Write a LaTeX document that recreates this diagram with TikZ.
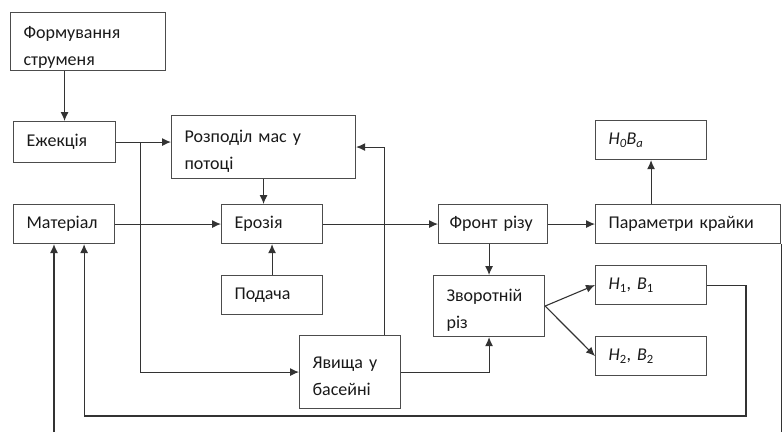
\documentclass[tikz,border=0pt]{standalone}
\usepackage{fontspec}
\setmainfont{Carlito}
\usetikzlibrary{arrows.meta}
\usetikzlibrary{calc}
\tikzset{>=stealth}
\tikzset{
  blok/.style={draw=black!70, line width=1.1pt, rectangle, anchor=north west,
    inner xsep=13pt, inner ysep=2pt, align=left, text=black!90,
    font=\fontsize{18}{27}\selectfont},
  strilka/.style={-{Latex[length=9pt,width=8pt]}, line width=1.1pt, draw=black!80},
  liniya/.style={line width=1.1pt, draw=black!80}
}
% strut to push two-line texts a little down
\newcommand{\pidpora}[1]{\rule{0pt}{#1pt}}

\begin{document}
\begin{tikzpicture}[x=1pt, y=-1pt]
        \useasboundingbox (0,0) rectangle (783,432);
        % Blocks
        \node[blok, minimum width=155pt, minimum height=58pt, text width=129pt] (form) at (10,12) {\pidpora{24}Формування\\струменя};
        \node[blok, minimum width=102pt, minimum height=41pt, text width=76pt] (ezh) at (13,121) {Ежекція};
        \node[blok, minimum width=184pt, minimum height=63pt, text width=158pt] (rozp) at (171,115) {\pidpora{20}Розподіл мас у\\потоці};
        \node[blok, minimum width=101pt, minimum height=39pt, text width=75pt] (mat) at (13,204) {Матеріал};
        \node[blok, minimum width=101pt, minimum height=39pt, text width=75pt] (eroz) at (221,204) {Ерозія};
        \node[blok, minimum width=101pt, minimum height=39pt, text width=75pt] (pod) at (221,275) {Подача};
        \node[blok, minimum width=101pt, minimum height=73pt, text width=75pt] (yav) at (299,335) {\pidpora{20}Явища у\\басейні};
        \node[blok, minimum width=109pt, minimum height=39pt, inner xsep=11pt, text width=87pt] (front) at (438,204) {Фронт різу};
        \node[blok, minimum width=111pt, minimum height=61pt, text width=85pt] (zvor) at (433,275) {\pidpora{20}Зворотній\\різ};
        \node[blok, minimum width=185pt, minimum height=39pt, text width=159pt] (param) at (595,204) {Параметри крайки};
        \node[blok, minimum width=111pt, minimum height=39pt, text width=85pt] (hoba) at (595,120) {\textit{H\textsubscript{0}B\textsubscript{a}}};
        \node[blok, minimum width=111pt, minimum height=39pt, text width=85pt] (hb1) at (595,265) {\textit{H}\textsubscript{1}, \textit{B}\textsubscript{1}};
        \node[blok, minimum width=111pt, minimum height=39pt, text width=85pt] (hb2) at (595,336) {\textit{H}\textsubscript{2}, \textit{B}\textsubscript{2}};

        % Helper points
        \coordinate (rozgal) at ($(ezh.east)+(24,0)$);
        \coordinate (yavvyh) at ($(yav.north east)+(-17,0)$);
        \coordinate (zvorot) at (746,416);
        \coordinate (matvh) at ($(mat.south east)+(-31,0)$);
        \coordinate (matvh2) at ($(mat.south west)+(41,0)$);
        \coordinate (niz2) at (matvh2 |- 0,432);
        \coordinate (niz) at ($(param.south east)+(0,0)$);

        % Connectors
        \draw[strilka] (ezh.north |- form.south) -- (ezh.north);
        \draw[strilka] (ezh.east) -- (ezh.east -| rozp.west);
        \draw[strilka] (rozgal) |- (yav.west);
        \draw[strilka] (rozp.south) -- (rozp.south |- eroz.north);
        \draw[strilka] (mat.east) -- (eroz.west);
        \draw[strilka] (pod.north) -- (eroz.south);
        \draw[strilka] (yavvyh) |- (rozp.east);
        \draw[strilka] (eroz.east) -- (front.west);
        \draw[strilka] (zvor.north |- front.south) -- (zvor.north);
        \draw[strilka] (yav.east) -| (zvor.south);
        \draw[strilka] (front.east) -- (param.west);
        \draw[strilka] (hoba.south |- param.north) -- (hoba.south);
        \draw[strilka] (zvor.east) -- (hb1.west);
        \draw[strilka] (zvor.east) -- (hb2.west);
        \draw[strilka] (hb1.east) -| (zvorot) -| (matvh);
        \draw[strilka] (niz2) -- (matvh2);
        \draw[liniya] (niz) -- (niz |- 0,432);
      \end{tikzpicture}
\end{document}
